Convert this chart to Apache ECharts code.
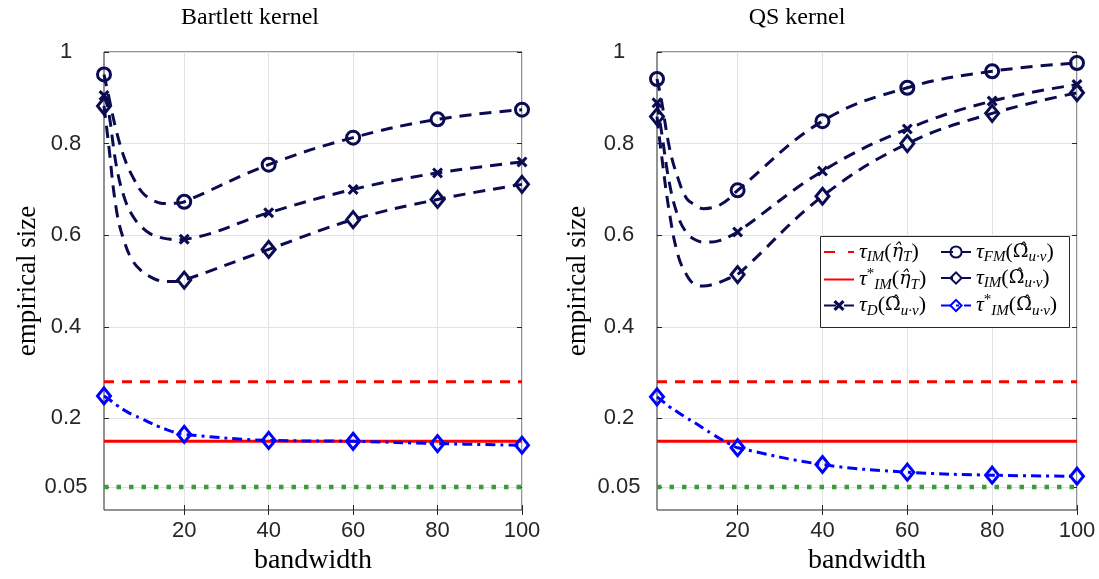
<!DOCTYPE html>
<html>
<head>
<meta charset="utf-8">
<script src="https://cdn.jsdelivr.net/npm/echarts@6/dist/echarts.min.js"></script>
<style>
  html, body { margin: 0; padding: 0; background: #fff; }
  #chart { width: 1099px; height: 579px; }
</style>
</head>
<body>
<div id="chart"></div>
<script>
// bandwidth grid of the curves, markers only on markerBw
const bandwidth = [1, 2, 4, 6, 8, 10, 12, 14, 16, 18, 20, 40, 60, 80, 100];
const markerBw = [1, 20, 40, 60, 80, 100];
const xTicks = [20, 40, 60, 80, 100];
const yTicks = [0.05, 0.2, 0.4, 0.6, 0.8, 1];

// Bartlett kernel
const bartFM = [0.951, 0.908, 0.825, 0.764, 0.724, 0.694, 0.679, 0.671, 0.669, 0.670, 0.673, 0.754, 0.813, 0.853, 0.874];
const bartD = [0.905, 0.875, 0.748, 0.677, 0.639, 0.617, 0.603, 0.596, 0.592, 0.590, 0.591, 0.649, 0.700, 0.736, 0.760];
const bartIM = [0.882, 0.806, 0.652, 0.581, 0.541, 0.521, 0.509, 0.501, 0.499, 0.499, 0.502, 0.569, 0.634, 0.678, 0.711];
const bartIMstar = [0.249, 0.243, 0.229, 0.217, 0.207, 0.199, 0.190, 0.182, 0.175, 0.169, 0.165, 0.152, 0.150, 0.145, 0.1415];

// QS kernel
const qsFM = [0.941, 0.897, 0.788, 0.723, 0.680, 0.666, 0.658, 0.660, 0.667, 0.680, 0.698, 0.849, 0.922, 0.958, 0.976];
const qsD = [0.889, 0.830, 0.710, 0.640, 0.605, 0.590, 0.585, 0.585, 0.589, 0.597, 0.607, 0.740, 0.832, 0.893, 0.929];
const qsIM = [0.859, 0.780, 0.645, 0.555, 0.513, 0.492, 0.489, 0.492, 0.498, 0.506, 0.514, 0.685, 0.800, 0.866, 0.911];
const qsIMstar = [0.247, 0.240, 0.225, 0.213, 0.201, 0.190, 0.178, 0.166, 0.155, 0.145, 0.136, 0.0993, 0.0826, 0.076, 0.0738];

// horizontal levels (same in both panels)
const tauIMeta = 0.28;
const tauIMstarEta = 0.15;
const nominal = 0.05;

const NAVY = '#0b0b52';
const BLUE = '#0000ff';
const RED = '#ff0000';
const GREEN = '#3d9a3d';
const AX = '#262626';
const SERIF = 'Liberation Serif';
const crossPath = 'path://M2,0L5,3L8,0L10,2L7,5L10,8L8,10L5,7L2,10L0,8L3,5L0,2Z';
const NOFILL = 'rgba(0,0,0,0)';

function pairs(ys) {
  return bandwidth.map((x, i) => [x, ys[i]]);
}
function flat(v) {
  return [[1, v], [100, v]];
}
function markSize(size) {
  return (v) => (markerBw.indexOf(v[0]) >= 0 ? size : 0);
}

function panelSeries(k, fm, d, im, imStar) {
  const base = { type: 'line', xAxisIndex: k * 2, yAxisIndex: k * 2, silent: true, animation: false };
  const curve = { smooth: 0.4 };
  const hollow = { color: NOFILL, borderColor: NAVY, borderWidth: 3 };
  return [
    { ...base, name: 'nominal', data: flat(nominal), symbol: 'none',
      lineStyle: { color: GREEN, width: 4.5, type: [4.5, 8] }, itemStyle: { color: NOFILL } },
    { ...base, name: 'IMeta', data: flat(tauIMeta), symbol: 'none',
      lineStyle: { color: RED, width: 3, type: [10, 8] }, itemStyle: { color: NOFILL, borderWidth: 0 } },
    { ...base, name: 'IMstarEta', data: flat(tauIMstarEta), symbol: 'none',
      lineStyle: { color: RED, width: 3, type: 'solid' }, itemStyle: { color: NOFILL, borderWidth: 0 } },
    { ...base, ...curve, name: 'IMstar', data: pairs(imStar),
      symbol: 'diamond', symbolSize: markSize([13, 16]),
      lineStyle: { color: BLUE, width: 3, type: [10, 5, 3, 5] },
      itemStyle: { color: NOFILL, borderColor: BLUE, borderWidth: 3 } },
    { ...base, ...curve, name: 'D', data: pairs(d),
      symbol: crossPath, symbolSize: markSize(11),
      lineStyle: { color: NAVY, width: 3, type: [12, 8] },
      itemStyle: { color: NAVY, borderWidth: 0 } },
    { ...base, ...curve, name: 'FM', data: pairs(fm),
      symbol: 'circle', symbolSize: markSize(13),
      lineStyle: { color: NAVY, width: 3, type: [12, 8] },
      itemStyle: hollow },
    { ...base, ...curve, name: 'IM', data: pairs(im),
      symbol: 'diamond', symbolSize: markSize([13, 16]),
      lineStyle: { color: NAVY, width: 3, type: [12, 8] },
      itemStyle: hollow },
  ];
}

function tickStyle(values) {
  return { show: true, inside: true, length: 5, customValues: values, lineStyle: { color: AX, width: 1 } };
}

function xAxes(k) {
  const common = { type: 'value', gridIndex: k, min: 1, max: 100, axisLine: { show: false } };
  return [
    { ...common, position: 'bottom', axisTick: tickStyle(xTicks),
      axisLabel: { customValues: xTicks, color: AX, fontSize: 22, fontFamily: 'Liberation Sans', margin: 10 },
      splitLine: { show: true, lineStyle: { color: '#e2e2e2', width: 1 } } },
    { ...common, position: 'top', axisTick: tickStyle(xTicks), axisLabel: { show: false }, splitLine: { show: false } },
  ];
}

function yAxes(k) {
  const common = { type: 'value', gridIndex: k, min: 0, max: 1, axisLine: { show: false } };
  return [
    { ...common, position: 'left', axisTick: tickStyle(yTicks),
      axisLabel: { customValues: yTicks, color: AX, fontSize: 22, fontFamily: 'Liberation Sans',
        margin: 38, align: 'center', formatter: (v) => String(v) },
      splitLine: { show: true, lineStyle: { color: '#e2e2e2', width: 1 } } },
    { ...common, position: 'right', axisTick: tickStyle(yTicks), axisLabel: { show: false }, splitLine: { show: false } },
  ];
}

// legend labels as rich text
const labels = {
  IMeta: '{t|τ}{s|IM}{n|(}{h|η̂}{s|T}{n|)}',
  IMstarEta: '{t|τ}{p|*}{s|IM}{n|(}{h|η̂}{s|T}{n|)}',
  D: '{t|τ}{s|D}{n|(}{g|Ω̂}{s|u·v}{n|)}',
  FM: '{t|τ}{s|FM}{n|(}{g|Ω̂}{s|u·v}{n|)}',
  IM: '{t|τ}{s|IM}{n|(}{g|Ω̂}{s|u·v}{n|)}',
  IMstar: '{t|τ}{p|*}{s|IM}{n|(}{g|Ω̂}{s|u·v}{n|)}',
};
const rich = {
  t: { fontFamily: SERIF, fontStyle: 'italic', fontSize: 22, color: '#000' },
  n: { fontFamily: SERIF, fontSize: 22, color: '#000' },
  h: { fontFamily: 'DejaVu Serif', fontStyle: 'italic', fontSize: 19, color: '#000' },
  g: { fontFamily: 'DejaVu Serif', fontSize: 19, color: '#000' },
  s: { fontFamily: SERIF, fontStyle: 'italic', fontSize: 15, color: '#000', padding: [11, 0, 0, 0] },
  p: { fontFamily: SERIF, fontSize: 15, color: '#000', padding: [0, 0, 10, 0] },
};
function legendBlock(left, items) {
  return {
    left, top: 241, orient: 'vertical', padding: 0, itemWidth: 30, itemHeight: 14, itemGap: 2,
    selectedMode: false, z: 101, data: items,
    formatter: (name) => labels[name],
    textStyle: { rich },
  };
}

function text(x, y, str, size, rotate) {
  return {
    type: 'text', x, y, rotation: rotate ? Math.PI / 2 : 0, silent: true,
    style: { text: str, fontFamily: SERIF, fontSize: size, fill: '#000', align: 'center', verticalAlign: 'middle' },
  };
}

const chart = echarts.init(document.getElementById('chart'), null, { renderer: 'canvas' });
chart.setOption({
  animation: false,
  backgroundColor: '#fff',
  grid: [
    { left: 104, top: 52, width: 418, height: 458, show: true, borderColor: AX, borderWidth: 1, outerBoundsMode: 'none' },
    { left: 657, top: 52, width: 420, height: 458, show: true, borderColor: AX, borderWidth: 1, outerBoundsMode: 'none' },
  ],
  xAxis: [...xAxes(0), ...xAxes(1)],
  yAxis: [...yAxes(0), ...yAxes(1)],
  legend: [
    legendBlock(823, [{ name: 'IMeta', lineStyle: { type: [11, 13] } }, 'IMstarEta', 'D']),
    legendBlock(940, ['FM', 'IM', 'IMstar']),
  ],
  graphic: [
    { type: 'rect', z: 100, silent: true, shape: { x: 820.5, y: 236.5, width: 249, height: 91 },
      style: { fill: '#fff', stroke: AX, lineWidth: 1 } },
    text(250, 18, 'Bartlett kernel', 24),
    text(797, 18, 'QS kernel', 24),
    text(28, 281, 'empirical size', 27, true),
    text(578, 281, 'empirical size', 27, true),
    text(313, 561, 'bandwidth', 28),
    text(867, 561, 'bandwidth', 28),
  ],
  series: [
    ...panelSeries(0, bartFM, bartD, bartIM, bartIMstar),
    ...panelSeries(1, qsFM, qsD, qsIM, qsIMstar),
  ],
});
</script>
</body>
</html>
